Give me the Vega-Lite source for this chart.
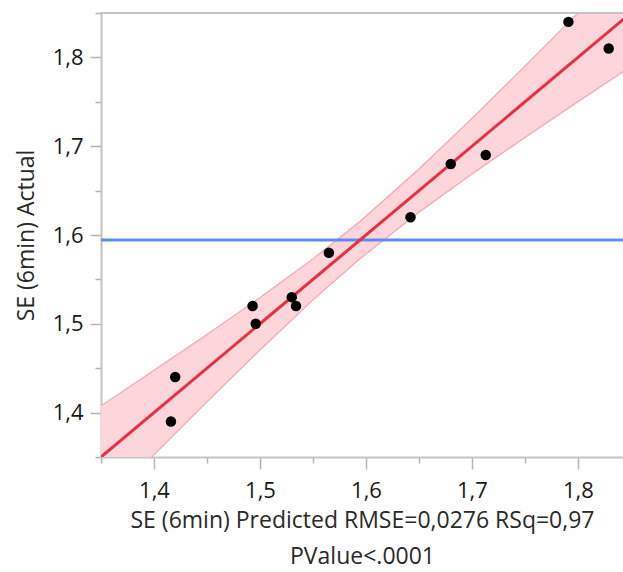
{
  "$schema": "https://vega.github.io/schema/vega-lite/v6.json",
  "width": 522,
  "height": 444,
  "autosize": {"type": "none"},
  "padding": {"left": 101, "top": 13, "right": 0, "bottom": 115},
  "background": "white",
  "config": {
    "view": {"stroke": null},
    "font": "Open Sans",
    "axis": {
      "domainColor": "#c4c4c4",
      "domainWidth": 2,
      "tickColor": "#b4b4b4",
      "tickWidth": 1.5,
      "labelFont": "Open Sans",
      "labelFontSize": 22,
      "labelColor": "#1a1a1a",
      "titleFont": "Open Sans",
      "titleFontSize": 23,
      "titleFontWeight": "normal",
      "titleColor": "#2a2a2a",
      "grid": false
    }
  },
  "datasets": {
    "band": [
      {"x": 1.35, "lo": 1.2924, "hi": 1.4076},
      {"x": 1.40, "lo": 1.3524, "hi": 1.4476},
      {"x": 1.45, "lo": 1.412, "hi": 1.488},
      {"x": 1.50, "lo": 1.4705, "hi": 1.5295},
      {"x": 1.55, "lo": 1.5269, "hi": 1.5731},
      {"x": 1.594, "lo": 1.573, "hi": 1.615},
      {"x": 1.65, "lo": 1.6257, "hi": 1.6743},
      {"x": 1.70, "lo": 1.6686, "hi": 1.7314},
      {"x": 1.75, "lo": 1.7098, "hi": 1.7902},
      {"x": 1.80, "lo": 1.75, "hi": 1.85},
      {"x": 1.85, "lo": 1.7899, "hi": 1.9101}
    ],
    "fit": [
      {"x": 1.35, "y": 1.35},
      {"x": 1.85, "y": 1.85}
    ],
    "mean": [{"mean": 1.5944}],
    "frame": [{"top": 1.85}],
    "points": [
      {"pred": 1.416, "act": 1.39},
      {"pred": 1.42, "act": 1.44},
      {"pred": 1.493, "act": 1.52},
      {"pred": 1.496, "act": 1.50},
      {"pred": 1.530, "act": 1.53},
      {"pred": 1.534, "act": 1.52},
      {"pred": 1.565, "act": 1.58},
      {"pred": 1.642, "act": 1.62},
      {"pred": 1.680, "act": 1.68},
      {"pred": 1.713, "act": 1.69},
      {"pred": 1.791, "act": 1.84},
      {"pred": 1.829, "act": 1.81}
    ]
  },
  "layer": [
    {
      "data": {"name": "band"},
      "mark": {"type": "area", "clip": true, "color": "#fcd6db", "opacity": 1},
      "encoding": {
        "x": {
          "field": "x", "type": "quantitative",
          "scale": {"domain": [1.35, 1.8425], "nice": false, "zero": false},
          "axis": {
            "title": ["SE (6min) Predicted RMSE=0,0276 RSq=0,97", "PValue<.0001"],
            "titleLineHeight": 36,
            "titlePadding": 8,
            "values": [1.35, 1.4, 1.45, 1.5, 1.55, 1.6, 1.65, 1.7, 1.75, 1.8],
            "tickSize": {"condition": {"test": "abs(datum.value*10 - round(datum.value*10)) < 0.01", "value": 12}, "value": 6},
            "labelPadding": 11,
            "labelExpr": "abs(datum.value*10 - round(datum.value*10)) < 0.01 ? replace(format(datum.value, '.1f'), '.', ',') : ''"
          }
        },
        "y": {
          "field": "lo", "type": "quantitative",
          "scale": {"domain": [1.35, 1.85], "nice": false, "zero": false},
          "axis": {
            "title": "SE (6min) Actual",
            "titlePadding": 14,
            "values": [1.35, 1.4, 1.45, 1.5, 1.55, 1.6, 1.65, 1.7, 1.75, 1.8, 1.85],
            "tickSize": {"condition": {"test": "abs(datum.value*10 - round(datum.value*10)) < 0.01", "value": 11}, "value": 6},
            "labelPadding": 7,
            "labelExpr": "abs(datum.value*10 - round(datum.value*10)) < 0.01 ? replace(format(datum.value, '.1f'), '.', ',') : ''"
          }
        },
        "y2": {"field": "hi"}
      }
    },
    {
      "data": {"name": "band"},
      "mark": {"type": "line", "clip": true, "color": "#f5a6af", "strokeWidth": 1.2},
      "encoding": {
        "x": {"field": "x", "type": "quantitative"},
        "y": {"field": "lo", "type": "quantitative"}
      }
    },
    {
      "data": {"name": "band"},
      "mark": {"type": "line", "clip": true, "color": "#f5a6af", "strokeWidth": 1.2},
      "encoding": {
        "x": {"field": "x", "type": "quantitative"},
        "y": {"field": "hi", "type": "quantitative"}
      }
    },
    {
      "data": {"name": "mean"},
      "mark": {"type": "rule", "color": "#5b8def", "strokeWidth": 3},
      "encoding": {
        "y": {"field": "mean", "type": "quantitative"}
      }
    },
    {
      "data": {"name": "fit"},
      "mark": {"type": "line", "clip": true, "color": "#e8303e", "strokeWidth": 3},
      "encoding": {
        "x": {"field": "x", "type": "quantitative"},
        "y": {"field": "y", "type": "quantitative"}
      }
    },
    {
      "data": {"name": "frame"},
      "mark": {"type": "rule", "color": "#c4c4c4", "strokeWidth": 2},
      "encoding": {
        "y": {"field": "top", "type": "quantitative"}
      }
    },
    {
      "data": {"name": "points"},
      "mark": {"type": "circle", "color": "#000000", "opacity": 1, "size": 110},
      "encoding": {
        "x": {"field": "pred", "type": "quantitative"},
        "y": {"field": "act", "type": "quantitative"}
      }
    }
  ]
}
